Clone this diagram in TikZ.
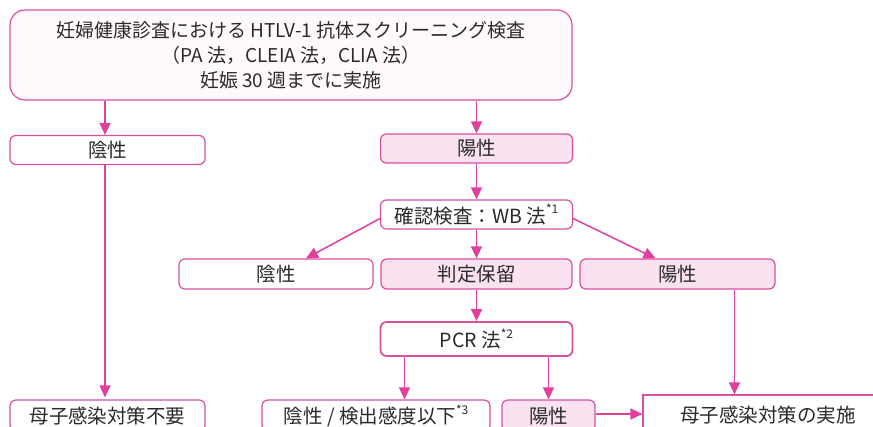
\documentclass[tikz,border=0pt]{standalone}
\usepackage{fontspec}
\setmainfont{Noto Sans CJK JP}
\usetikzlibrary{arrows.meta,calc}
\definecolor{pkline}{HTML}{E0409B}
\definecolor{pkborder}{HTML}{D9509F}
\definecolor{pkfill}{HTML}{FBE2F0}
\definecolor{topfill}{HTML}{FFF8FC}
\definecolor{txt}{HTML}{2A2A2A}
\newcommand{\sups}[1]{\raisebox{0.5em}{\fontsize{12}{12}\selectfont #1}}
\begin{document}
\begin{tikzpicture}[x=1pt,y=-1pt,
  box/.style={draw=pkborder, line width=1.2pt, rounded corners=6pt, fill=white,
    minimum height=29pt, inner sep=0pt, text=txt,
    font=\fontsize{19.5}{25}\selectfont},
  pbox/.style={box, fill=pkfill},
  arr/.style={draw=pkline, line width=1.5pt, -{Triangle[width=11pt,length=12pt]}}]
\useasboundingbox (0,0) rectangle (873,427);
\clip (0,0) rectangle (873,427);

\node[box, fill=topfill, minimum width=562pt, minimum height=90pt, rounded corners=15pt, align=center,
  font=\fontsize{19}{25}\selectfont] (top) at (291,55)
  {妊婦健康診査における HTLV-1 抗体スクリーニング検査\\（PA 法，CLEIA 法，CLIA 法）\\妊娠 30 週までに実施};

\node[box, minimum width=195pt] (neg1) at (107.5,150) {陰性};
\node[pbox, minimum width=192pt] (pos1) at (476.5,148.5) {陽性};
\node[box, minimum width=192pt] (wb) at (476.5,214.5) {確認検査：WB 法\sups{*1}};
\node[box, minimum width=194pt, minimum height=30pt] (neg2) at (276,274) {陰性};
\node[pbox, minimum width=191pt, minimum height=30pt] (hold) at (476.5,274) {判定保留};
\node[pbox, minimum width=195pt, minimum height=30pt] (pos2) at (677.5,274) {陽性};
\node[box, line width=1.8pt, minimum width=192pt, minimum height=34pt] (pcr) at (476.5,339) {PCR 法\sups{*2}};

\node[box, minimum width=195pt, minimum height=32pt] (noneed) at (107.5,416) {母子感染対策不要};
\node[box, minimum width=228pt, minimum height=32pt] (negpcr) at (376,416) {陰性 / 検出感度以下\sups{*3}};
\node[pbox, minimum width=93pt, minimum height=32pt] (pospcr) at (548.5,416) {陽性};
\node[box, rounded corners=0pt, minimum width=250pt, minimum height=40pt] (act) at (768,415) {母子感染対策の実施};

\draw[arr] (top.south -| 105,0) -- (105,0 |- neg1.north);
\draw[arr] (top.south -| pos1.north) -- (pos1.north);
\draw[arr] (neg1.south -| 105,0) -- ([yshift=2pt]105,0 |- noneed.north);
\draw[arr] (pos1.south) -- (wb.north);
\draw[arr] ([yshift=-4pt]wb.west) -- ([xshift=30pt]neg2.north);
\draw[arr] ([yshift=-4pt]wb.east) -- ([xshift=-22pt]pos2.north);
\draw[arr] (wb.south) -- (hold.north);
\draw[arr] (hold.south) -- (pcr.north);
\draw[arr] ([xshift=-72pt]pcr.south) -- ([xshift=-72pt]pcr.south |- negpcr.north);
\draw[arr] (pcr.south -| pospcr.north) -- (pospcr.north);
\draw[arr] ([xshift=57pt]pos2.south) -- ([xshift=57pt]pos2.south |- act.north);
\draw[arr] ([yshift=2pt]pospcr.east) -- ([yshift=2pt]pospcr.east -| act.west);
\end{tikzpicture}
\end{document}
